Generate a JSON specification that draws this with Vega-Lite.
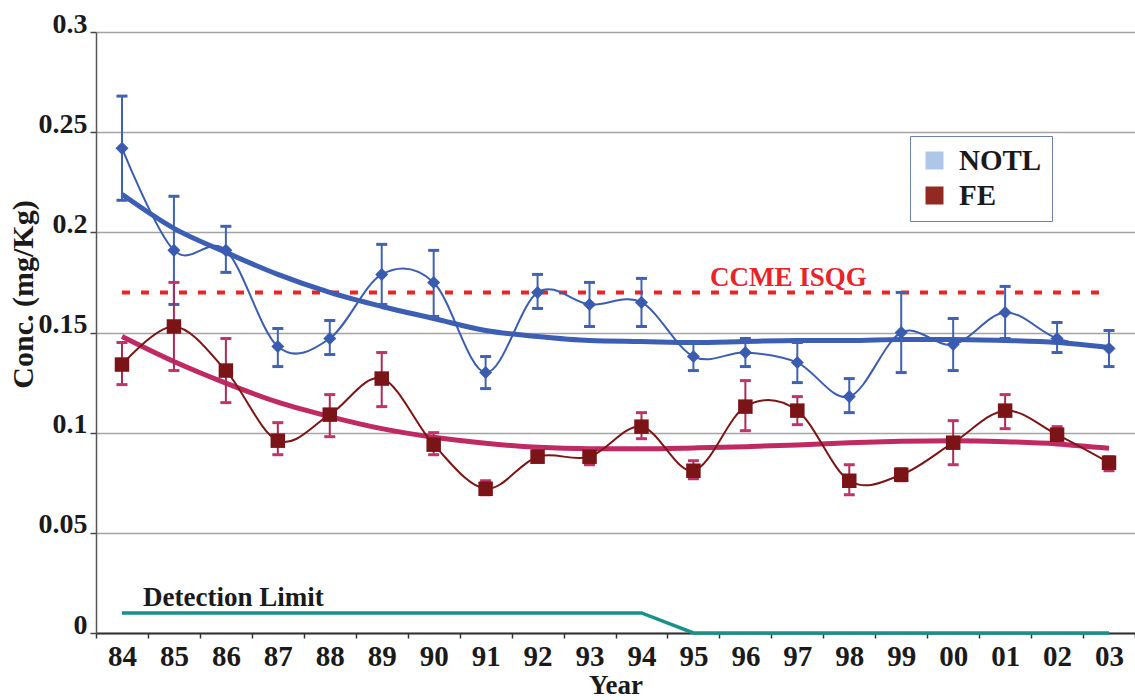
{
  "$schema": "https://vega.github.io/schema/vega-lite/v6.json",
  "width": 1039,
  "height": 601,
  "autosize": {"type": "none"},
  "padding": {"left": 96, "top": 32, "right": 0, "bottom": 67},
  "background": "white",
  "config": {
    "view": {"stroke": null},
    "font": "Liberation Serif",
    "axisY": {
      "titleFont": "Liberation Serif",
      "titleFontSize": 30,
      "titleFontWeight": "bold",
      "titleColor": "#1a1a1a",
      "titleX": -73,
      "titleY": 262,
      "titleAlign": "center",
      "titleBaseline": "middle",
      "labelFont": "Liberation Serif",
      "labelFontSize": 28,
      "labelFontWeight": "bold",
      "labelColor": "#1a1a1a",
      "labelBaseline": "alphabetic",
      "labelDy": 3,
      "labelPadding": 3,
      "tickSize": 6,
      "tickColor": "#444444",
      "tickWidth": 1.5,
      "domainColor": "#555555",
      "domainWidth": 1.5,
      "grid": true,
      "gridColor": "#a4a4a4",
      "gridWidth": 1.5
    }
  },
  "datasets": {
    "pts": [
      {"year": "84", "series": "NOTL", "v": 0.242, "lo": 0.216, "hi": 0.268, "trend": 0.219},
      {"year": "85", "series": "NOTL", "v": 0.191, "lo": 0.164, "hi": 0.218, "trend": 0.202},
      {"year": "86", "series": "NOTL", "v": 0.191, "lo": 0.180, "hi": 0.203, "trend": 0.190},
      {"year": "87", "series": "NOTL", "v": 0.143, "lo": 0.133, "hi": 0.152, "trend": 0.179},
      {"year": "88", "series": "NOTL", "v": 0.147, "lo": 0.139, "hi": 0.156, "trend": 0.170},
      {"year": "89", "series": "NOTL", "v": 0.179, "lo": 0.164, "hi": 0.194, "trend": 0.163},
      {"year": "90", "series": "NOTL", "v": 0.175, "lo": 0.158, "hi": 0.191, "trend": 0.157},
      {"year": "91", "series": "NOTL", "v": 0.130, "lo": 0.122, "hi": 0.138, "trend": 0.151},
      {"year": "92", "series": "NOTL", "v": 0.170, "lo": 0.162, "hi": 0.179, "trend": 0.148},
      {"year": "93", "series": "NOTL", "v": 0.164, "lo": 0.153, "hi": 0.175, "trend": 0.146},
      {"year": "94", "series": "NOTL", "v": 0.165, "lo": 0.153, "hi": 0.177, "trend": 0.1455},
      {"year": "95", "series": "NOTL", "v": 0.138, "lo": 0.131, "hi": 0.145, "trend": 0.145},
      {"year": "96", "series": "NOTL", "v": 0.140, "lo": 0.133, "hi": 0.147, "trend": 0.1455},
      {"year": "97", "series": "NOTL", "v": 0.135, "lo": 0.125, "hi": 0.145, "trend": 0.146},
      {"year": "98", "series": "NOTL", "v": 0.118, "lo": 0.110, "hi": 0.127, "trend": 0.146},
      {"year": "99", "series": "NOTL", "v": 0.150, "lo": 0.130, "hi": 0.170, "trend": 0.1465},
      {"year": "00", "series": "NOTL", "v": 0.144, "lo": 0.131, "hi": 0.157, "trend": 0.1465},
      {"year": "01", "series": "NOTL", "v": 0.160, "lo": 0.147, "hi": 0.173, "trend": 0.146},
      {"year": "02", "series": "NOTL", "v": 0.147, "lo": 0.140, "hi": 0.155, "trend": 0.145},
      {"year": "03", "series": "NOTL", "v": 0.142, "lo": 0.133, "hi": 0.151, "trend": 0.1425},
      {"year": "84", "series": "FE", "v": 0.134, "lo": 0.124, "hi": 0.145, "trend": 0.148},
      {"year": "85", "series": "FE", "v": 0.153, "lo": 0.131, "hi": 0.175, "trend": 0.1355},
      {"year": "86", "series": "FE", "v": 0.131, "lo": 0.115, "hi": 0.147, "trend": 0.1247},
      {"year": "87", "series": "FE", "v": 0.096, "lo": 0.089, "hi": 0.105, "trend": 0.1152},
      {"year": "88", "series": "FE", "v": 0.109, "lo": 0.098, "hi": 0.119, "trend": 0.108},
      {"year": "89", "series": "FE", "v": 0.127, "lo": 0.113, "hi": 0.140, "trend": 0.102},
      {"year": "90", "series": "FE", "v": 0.094, "lo": 0.089, "hi": 0.100, "trend": 0.0977},
      {"year": "91", "series": "FE", "v": 0.072, "lo": 0.069, "hi": 0.076, "trend": 0.0947},
      {"year": "92", "series": "FE", "v": 0.088, "lo": 0.086, "hi": 0.092, "trend": 0.0927},
      {"year": "93", "series": "FE", "v": 0.088, "lo": 0.084, "hi": 0.092, "trend": 0.092},
      {"year": "94", "series": "FE", "v": 0.103, "lo": 0.097, "hi": 0.110, "trend": 0.092},
      {"year": "95", "series": "FE", "v": 0.081, "lo": 0.077, "hi": 0.086, "trend": 0.0924},
      {"year": "96", "series": "FE", "v": 0.113, "lo": 0.101, "hi": 0.126, "trend": 0.093},
      {"year": "97", "series": "FE", "v": 0.111, "lo": 0.104, "hi": 0.118, "trend": 0.0939},
      {"year": "98", "series": "FE", "v": 0.076, "lo": 0.069, "hi": 0.084, "trend": 0.095},
      {"year": "99", "series": "FE", "v": 0.079, "lo": 0.076, "hi": 0.082, "trend": 0.0957},
      {"year": "00", "series": "FE", "v": 0.095, "lo": 0.084, "hi": 0.106, "trend": 0.096},
      {"year": "01", "series": "FE", "v": 0.111, "lo": 0.102, "hi": 0.119, "trend": 0.0955},
      {"year": "02", "series": "FE", "v": 0.099, "lo": 0.096, "hi": 0.103, "trend": 0.0944},
      {"year": "03", "series": "FE", "v": 0.085, "lo": 0.081, "hi": 0.088, "trend": 0.0922}
    ],
    "dl": [
      {"year": "84", "dl": 0.01}, {"year": "85", "dl": 0.01}, {"year": "86", "dl": 0.01},
      {"year": "87", "dl": 0.01}, {"year": "88", "dl": 0.01}, {"year": "89", "dl": 0.01},
      {"year": "90", "dl": 0.01}, {"year": "91", "dl": 0.01}, {"year": "92", "dl": 0.01},
      {"year": "93", "dl": 0.01}, {"year": "94", "dl": 0.01}, {"year": "95", "dl": 0},
      {"year": "96", "dl": 0}, {"year": "97", "dl": 0}, {"year": "98", "dl": 0},
      {"year": "99", "dl": 0}, {"year": "00", "dl": 0}, {"year": "01", "dl": 0},
      {"year": "02", "dl": 0}, {"year": "03", "dl": 0}
    ],
    "ref": [{"year": "84", "ccme": 0.17}, {"year": "03", "ccme": 0.17}]
  },
  "encoding": {
    "x": {
      "field": "year",
      "type": "ordinal",
      "bandPosition": 0.5,
      "scale": {
        "type": "band",
        "domain": ["84","85","86","87","88","89","90","91","92","93","94","95","96","97","98","99","00","01","02","03"],
        "paddingInner": 0,
        "paddingOuter": 0
      },
      "axis": {
        "title": "Year",
        "titleFont": "Liberation Serif",
        "titleFontSize": 27,
        "titleFontWeight": "bold",
        "titleColor": "#1a1a1a",
        "titleBaseline": "alphabetic",
        "titleY": 60,
        "labelAngle": 0,
        "labelFont": "Liberation Serif",
        "labelFontSize": 29,
        "labelFontWeight": "bold",
        "labelColor": "#1a1a1a",
        "labelBaseline": "alphabetic",
        "labelPadding": 27,
        "labelDx": 7,
        "tickBand": "extent",
        "tickSize": 5,
        "tickColor": "#333333",
        "tickWidth": 1.5,
        "domainColor": "#333333",
        "domainWidth": 2,
        "grid": false
      }
    }
  },
  "layer": [
    {
      "data": {"name": "ref"},
      "mark": {"type": "line", "color": "#ee2222", "strokeWidth": 4, "strokeDash": [8, 11]},
      "encoding": {
        "y": {
          "field": "ccme",
          "type": "quantitative",
          "scale": {"domain": [0, 0.3], "nice": false, "zero": true},
          "axis": {"title": "Conc. (mg/Kg)", "values": [0, 0.05, 0.1, 0.15, 0.2, 0.25, 0.3], "format": "~g"}
        }
      }
    },
    {
      "data": {"name": "dl"},
      "mark": {"type": "line", "color": "#17918a", "strokeWidth": 3.5},
      "encoding": {"y": {"field": "dl", "type": "quantitative", "axis": {"title": "Conc. (mg/Kg)", "values": [0, 0.05, 0.1, 0.15, 0.2, 0.25, 0.3], "format": "~g"}}}
    },
    {
      "data": {"name": "pts"},
      "transform": [{"filter": "datum.series == 'NOTL'"}],
      "mark": {"type": "line", "color": "#3c5fb4", "strokeWidth": 5, "interpolate": "monotone"},
      "encoding": {"y": {"field": "trend", "type": "quantitative", "axis": {"title": "Conc. (mg/Kg)", "values": [0, 0.05, 0.1, 0.15, 0.2, 0.25, 0.3], "format": "~g"}}}
    },
    {
      "data": {"name": "pts"},
      "transform": [{"filter": "datum.series == 'FE'"}],
      "mark": {"type": "line", "color": "#c02a63", "strokeWidth": 5, "interpolate": "monotone"},
      "encoding": {"y": {"field": "trend", "type": "quantitative", "axis": {"title": "Conc. (mg/Kg)", "values": [0, 0.05, 0.1, 0.15, 0.2, 0.25, 0.3], "format": "~g"}}}
    },
    {
      "data": {"name": "pts"},
      "transform": [{"filter": "datum.series == 'NOTL'"}],
      "mark": {"type": "rule", "color": "#3f62b3", "strokeWidth": 2},
      "encoding": {
        "y": {"field": "lo", "type": "quantitative", "axis": {"title": "Conc. (mg/Kg)", "values": [0, 0.05, 0.1, 0.15, 0.2, 0.25, 0.3], "format": "~g"}},
        "y2": {"field": "hi"}
      }
    },
    {
      "data": {"name": "pts"},
      "transform": [{"filter": "datum.series == 'NOTL'"}, {"fold": ["lo", "hi"], "as": ["k", "cap"]}],
      "mark": {"type": "tick", "color": "#3f62b3", "size": 11, "thickness": 3, "opacity": 1},
      "encoding": {"y": {"field": "cap", "type": "quantitative", "axis": {"title": "Conc. (mg/Kg)", "values": [0, 0.05, 0.1, 0.15, 0.2, 0.25, 0.3], "format": "~g"}}}
    },
    {
      "data": {"name": "pts"},
      "transform": [{"filter": "datum.series == 'FE'"}],
      "mark": {"type": "rule", "color": "#ad2a55", "strokeWidth": 2},
      "encoding": {
        "y": {"field": "lo", "type": "quantitative", "axis": {"title": "Conc. (mg/Kg)", "values": [0, 0.05, 0.1, 0.15, 0.2, 0.25, 0.3], "format": "~g"}},
        "y2": {"field": "hi"}
      }
    },
    {
      "data": {"name": "pts"},
      "transform": [{"filter": "datum.series == 'FE'"}, {"fold": ["lo", "hi"], "as": ["k", "cap"]}],
      "mark": {"type": "tick", "color": "#c3336b", "size": 11, "thickness": 3, "opacity": 1},
      "encoding": {"y": {"field": "cap", "type": "quantitative", "axis": {"title": "Conc. (mg/Kg)", "values": [0, 0.05, 0.1, 0.15, 0.2, 0.25, 0.3], "format": "~g"}}}
    },
    {
      "data": {"name": "pts"},
      "transform": [{"filter": "datum.series == 'NOTL'"}],
      "mark": {"type": "line", "color": "#3a5db1", "strokeWidth": 2, "interpolate": "cardinal"},
      "encoding": {"y": {"field": "v", "type": "quantitative", "axis": {"title": "Conc. (mg/Kg)", "values": [0, 0.05, 0.1, 0.15, 0.2, 0.25, 0.3], "format": "~g"}}}
    },
    {
      "data": {"name": "pts"},
      "transform": [{"filter": "datum.series == 'NOTL'"}],
      "mark": {"type": "point", "shape": "diamond", "filled": true, "color": "#3a5cb0", "size": 170, "opacity": 1},
      "encoding": {"y": {"field": "v", "type": "quantitative", "axis": {"title": "Conc. (mg/Kg)", "values": [0, 0.05, 0.1, 0.15, 0.2, 0.25, 0.3], "format": "~g"}}}
    },
    {
      "data": {"name": "pts"},
      "transform": [{"filter": "datum.series == 'FE'"}],
      "mark": {"type": "line", "color": "#7d1515", "strokeWidth": 2, "interpolate": "cardinal"},
      "encoding": {"y": {"field": "v", "type": "quantitative", "axis": {"title": "Conc. (mg/Kg)", "values": [0, 0.05, 0.1, 0.15, 0.2, 0.25, 0.3], "format": "~g"}}}
    },
    {
      "data": {"name": "pts"},
      "transform": [{"filter": "datum.series == 'FE'"}],
      "mark": {"type": "square", "filled": true, "color": "#7a1416", "size": 210, "opacity": 1},
      "encoding": {"y": {"field": "v", "type": "quantitative", "axis": {"title": "Conc. (mg/Kg)", "values": [0, 0.05, 0.1, 0.15, 0.2, 0.25, 0.3], "format": "~g"}}}
    },
    {
      "data": {"name": "pts"},
      "transform": [{"filter": "false"}],
      "mark": {"type": "square", "filled": true},
      "encoding": {
        "y": {"field": "v", "type": "quantitative", "axis": {"title": "Conc. (mg/Kg)", "values": [0, 0.05, 0.1, 0.15, 0.2, 0.25, 0.3], "format": "~g"}},
        "fill": {
          "field": "series",
          "type": "nominal",
          "scale": {"domain": ["NOTL", "FE"], "range": ["#aec6e8", "#922a22"]},
          "legend": {
            "orient": "none",
            "legendX": 814,
            "legendY": 104,
            "title": null,
            "strokeColor": "#6c83a6",
            "fillColor": "white",
            "padding": 10,
            "symbolType": "square",
            "symbolSize": 324,
            "symbolStrokeWidth": 0,
            "symbolOpacity": 1,
            "labelFont": "Liberation Serif",
            "labelFontSize": 29,
            "labelFontWeight": "bold",
            "labelColor": "#1a1a1a",
            "rowPadding": 5,
            "labelOffset": 10,
            "labelExpr": "datum.label + '\u00a0\u00a0'"
          }
        }
      }
    },
    {
      "data": {"values": [{"year": "84", "y": 0.01, "label": "Detection Limit"}]},
      "mark": {"type": "text", "align": "left", "baseline": "alphabetic", "dx": 21, "dy": -7, "font": "Liberation Serif", "fontSize": 27, "fontWeight": "bold", "color": "#1a1a1a"},
      "encoding": {
        "y": {"field": "y", "type": "quantitative", "axis": {"title": "Conc. (mg/Kg)", "values": [0, 0.05, 0.1, 0.15, 0.2, 0.25, 0.3], "format": "~g"}},
        "text": {"field": "label"}
      }
    },
    {
      "data": {"values": [{"year": "97", "y": 0.17, "label": "CCME ISQG"}]},
      "mark": {"type": "text", "align": "center", "baseline": "alphabetic", "dx": -9, "dy": -6, "font": "Liberation Serif", "fontSize": 27, "fontWeight": "bold", "color": "#e8232a"},
      "encoding": {
        "y": {"field": "y", "type": "quantitative", "axis": {"title": "Conc. (mg/Kg)", "values": [0, 0.05, 0.1, 0.15, 0.2, 0.25, 0.3], "format": "~g"}},
        "text": {"field": "label"}
      }
    }
  ]
}
